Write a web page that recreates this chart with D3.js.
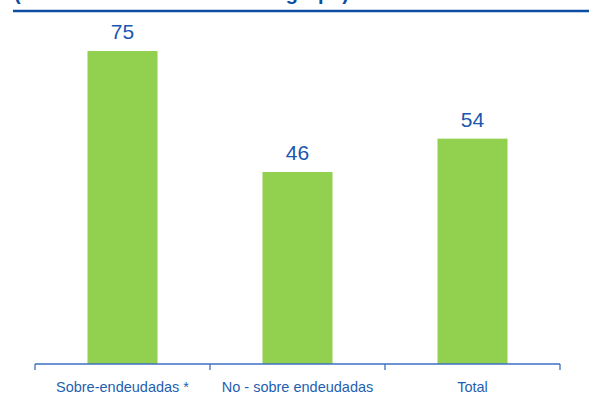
<!DOCTYPE html>
<html><head><meta charset="utf-8">
<script src="https://cdn.jsdelivr.net/npm/d3@7"></script>
<style>html,body{margin:0;padding:0;background:#fff;}svg{display:block;}</style>
</head><body>
<svg id="chart" width="589" height="403"></svg>
<script>
const categories = ["Sobre-endeudadas *", "No - sobre endeudadas", "Total"];
const values = [75, 46, 54];
const titleText = "(Número de deudas en cada grupo)";

const svg = d3.select("#chart");
const font = "Liberation Sans, Arial, sans-serif";

// Title (clipped at top) and rule
svg.append("text").attr("x", 14).attr("y", 0)
  .attr("font-family", font).attr("font-weight", "bold").attr("font-size", 20)
  .attr("fill", "#0b4ea2").attr("textLength", 335).attr("lengthAdjust", "spacingAndGlyphs")
  .text(titleText);
svg.append("line").attr("x1", 13).attr("x2", 589).attr("y1", 11).attr("y2", 11)
  .attr("stroke", "#0b4ea2").attr("stroke-width", 2.5);

const x = d3.scaleBand().domain(categories).range([35, 560]).paddingInner(0.6).paddingOuter(0.3);
const y = d3.scaleLinear().domain([0, 75]).range([364, 51]);

// bars
svg.selectAll("rect.bar").data(values).join("rect").attr("class", "bar")
  .attr("x", (d, i) => x(categories[i]))
  .attr("width", x.bandwidth())
  .attr("y", d => y(d))
  .attr("height", d => y(0) - y(d))
  .attr("fill", "#92d050");

// value labels
svg.selectAll("text.val").data(values).join("text").attr("class", "val")
  .attr("x", (d, i) => x(categories[i]) + x.bandwidth() / 2)
  .attr("y", d => y(d) - 12)
  .attr("text-anchor", "middle")
  .attr("font-family", font).attr("font-size", 21)
  .attr("fill", "#1a56b0")
  .text(d => d);

// axis
const axisX = d3.scaleBand().domain(categories).range([35, 560]);
const axis = d3.axisBottom(axisX).tickSize(0).tickPadding(0);
const g = svg.append("g").attr("transform", `translate(0,${y(0)})`).call(axis);
g.select(".domain").attr("stroke", "#3d6fc2").attr("stroke-width", 1.3).attr("d", "M35,0H560");
g.selectAll(".tick text").attr("font-family", font).attr("font-size", 14.5)
  .attr("fill", "#1f5fb0").attr("dy", null).attr("y", 28);
// boundary tick marks
const bounds = [35].concat(categories.map(c => axisX(c) + axisX.bandwidth()));
g.selectAll("line.sep").data(bounds).join("line").attr("class", "sep")
  .attr("x1", d => d).attr("x2", d => d).attr("y1", 0).attr("y2", 6)
  .attr("stroke", "#3d6fc2").attr("stroke-width", 1.3);
</script>
</body></html>
